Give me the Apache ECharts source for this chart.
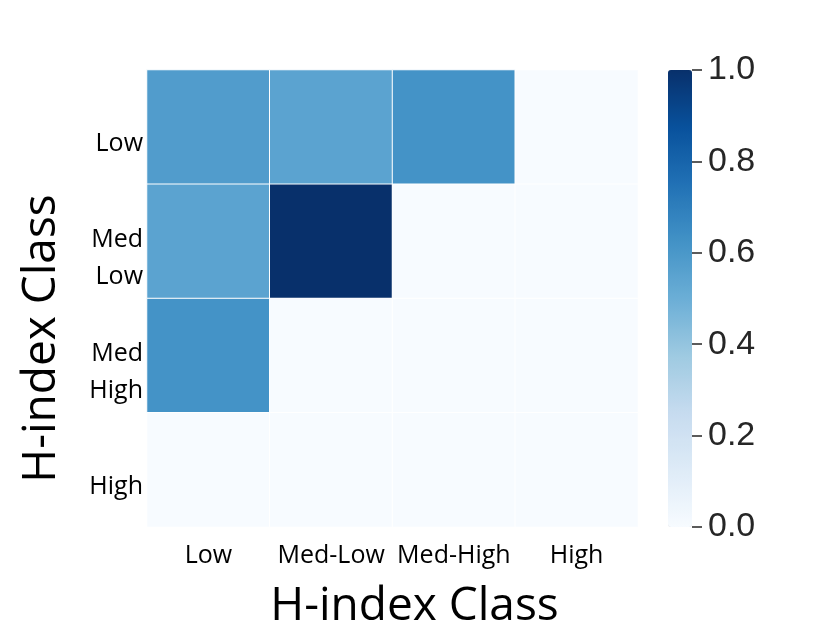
<!doctype html>
<html>
    <head>
        <meta charset="utf-8">
        <title>H-index heatmap</title>
        <style>
            html, body { margin: 0; padding: 0; background: #fff; }
            #main { width: 830px; height: 642px; }
        </style>
    </head>
    <body>
        <div id="main"></div>
        <script src="https://cdn.jsdelivr.net/npm/echarts@6/dist/echarts.min.js"></script>
        <script>

            var xClasses = ['Low', 'Med-Low', 'Med-High', 'High'];
            var yClasses = ['Low', 'Med\nLow', 'Med\nHigh', 'High'];
            // rows follow yClasses (top to bottom), columns follow xClasses
            var shares = [
                [0.58, 0.55, 0.62, 0.0],
                [0.55, 1.0, 0.0, 0.0],
                [0.62, 0.0, 0.0, 0.0],
                [0.0, 0.0, 0.0, 0.0]
            ];
            var colorTicks = [0, 0.2, 0.4, 0.6, 0.8, 1.0];
            var blues = ['#f7fbff', '#deebf7', '#c6dbef', '#9ecae1', '#6baed6', '#4292c6', '#2171b5', '#08519c', '#08306b'];

            var cells = [];
            shares.forEach(function (row, r) {
                row.forEach(function (v, c) {
                    cells.push([c, r, v]);
                });
            });

            var labelFont = '"Open Sans", sans-serif';

            var myChart = echarts.init(document.getElementById('main'));

            myChart.setOption({
                backgroundColor: '#ffffff',
                animation: false,
                grid: [{
                    left: 147, top: 70, width: 491, height: 457
                }, {
                    // thin strip just right of the colour bar, holds its ticks and labels
                    left: 692, top: 70, width: 10, height: 457
                }],
                xAxis: [{
                    type: 'category',
                    gridIndex: 0,
                    data: xClasses,
                    position: 'bottom',
                    name: 'H-index Class',
                    nameLocation: 'middle',
                    nameGap: 57,
                    nameTextStyle: { fontSize: 46, color: '#000', fontFamily: labelFont, padding: [0, 0, 0, 44] },
                    axisLine: { show: false },
                    axisTick: { show: false },
                    splitLine: { show: false },
                    axisLabel: { interval: 0, fontSize: 25, color: '#000', fontFamily: labelFont, margin: 16 }
                }, {
                    type: 'value',
                    gridIndex: 1,
                    show: false
                }],
                yAxis: [{
                    type: 'category',
                    gridIndex: 0,
                    data: yClasses,
                    inverse: true,
                    name: 'H-index Class',
                    nameLocation: 'middle',
                    nameGap: 82,
                    nameRotate: 90,
                    nameTextStyle: { fontSize: 46, color: '#000', fontFamily: labelFont, padding: [0, 80, 0, 0] },
                    axisLine: { show: false },
                    axisTick: { show: false },
                    splitLine: { show: false },
                    axisLabel: {
                        interval: 0,
                        color: '#000',
                        margin: 4,
                        formatter: function (v) {
                            return '{gap| }\n{t|' + v.split('\n').join('}\n{t|') + '}';
                        },
                        rich: {
                            gap: { fontSize: 4, lineHeight: 34 },
                            t: { fontSize: 25, lineHeight: 37, color: '#000', fontFamily: labelFont, align: 'right' }
                        }
                    }
                }, {
                    type: 'value',
                    gridIndex: 1,
                    position: 'left',
                    min: 0,
                    max: 1,
                    interval: 0.2,
                    axisLine: { show: false },
                    axisTick: { show: true, inside: true, length: 10, lineStyle: { color: '#262626', width: 1.5 } },
                    splitLine: { show: false },
                    axisLabel: {
                        inside: true,
                        fontSize: 34,
                        color: '#262626',
                        fontFamily: '"Liberation Sans", Arial, sans-serif',
                        margin: 16,
                        formatter: function (v) { return colorTicks.indexOf(v) >= 0 ? v.toFixed(1) : ''; }
                    }
                }],
                visualMap: {
                    type: 'continuous',
                    min: 0,
                    max: 1,
                    seriesIndex: 0,
                    calculable: false,
                    orient: 'vertical',
                    left: 668,
                    top: 70,
                    padding: 0,
                    itemWidth: 24,
                    itemHeight: 457,
                    text: ['', ''],
                    showLabel: false,
                    inRange: { color: blues }
                },
                series: [{
                    type: 'heatmap',
                    xAxisIndex: 0,
                    yAxisIndex: 0,
                    data: cells,
                    itemStyle: { borderColor: '#ffffff', borderWidth: 1 },
                    emphasis: { disabled: true }
                }]
            });

        </script>
    </body>
</html>
